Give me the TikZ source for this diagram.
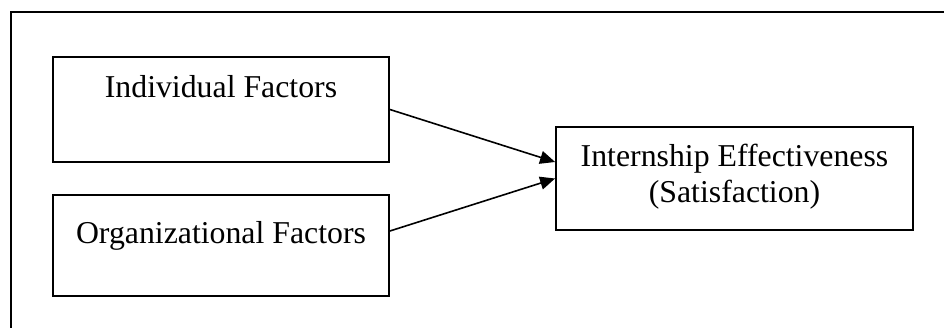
\documentclass[tikz,border=0pt]{standalone}
\usepackage{fontspec}
\setmainfont{Liberation Serif}
\usetikzlibrary{arrows.meta,calc}
\begin{document}
\begin{tikzpicture}[x=1pt,y=-1pt,
  box/.style={draw=black,line width=1.8pt,rectangle,inner sep=0pt},
  lbl/.style={anchor=base,inner sep=0pt,font=\fontsize{31.8}{36}\selectfont},
  arr/.style={line width=1.6pt,-{Triangle[length=15pt,width=13pt]}}]
\useasboundingbox (0,0) rectangle (944,328);
% outer frame (only left and top edges visible)
\draw[line width=1.8pt] (11,328) -- (11,12) -- (944,12);
% boxes
\node[box,minimum width=336pt,minimum height=105pt] (ind) at (221,109.5) {};
\node[lbl] (indt) at (221,98) {Individual Factors};
\node[box,minimum width=336pt,minimum height=101pt] (org) at (221,245.5) {};
\node[lbl] (orgt) at (221,244) {Organizational Factors};
\node[box,minimum width=357pt,minimum height=103pt] (eff) at (734.5,178.5) {};
\node[lbl] (efft1) at (734.5,167) {Internship Effectiveness};
\node[lbl] (efft2) at (734.5,203) {(Satisfaction)};
% connectors
\draw[arr] (ind.east) -- ($(eff.west)+(0,-16.5)$);
\draw[arr] ($(org.east)+(0,-14.5)$) -- (eff.west);
\end{tikzpicture}
\end{document}
